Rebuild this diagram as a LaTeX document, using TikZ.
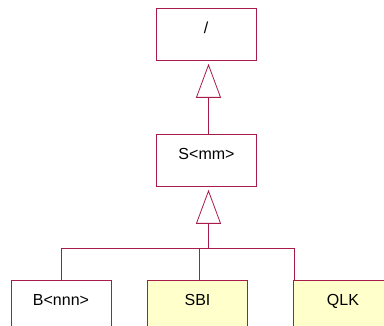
\documentclass[tikz,border=0pt]{standalone}
\usepackage{fontspec}
\setmainfont{Liberation Sans}
\usetikzlibrary{arrows.meta}
\definecolor{edge}{HTML}{A81C48}
\definecolor{leafbg}{HTML}{FFFFCC}

\begin{document}
\begin{tikzpicture}[x=1pt, y=-1pt,
    cls/.style={draw=edge, fill=white, line width=0.8pt, minimum width=100pt, inner sep=0pt,
                text height=25pt, text depth=27pt, font=\fontsize{16}{18}\selectfont},
    leaf/.style={cls, fill=leafbg, text depth=44pt},
    wire/.style={draw=edge, line width=0.8pt},
    gen/.style={wire, -{Triangle[open, length=34pt, width=25pt]}, shorten >=3pt}
  ]
  \useasboundingbox (0,0) rectangle (384,326);
  \node[cls, anchor=north] (root) at (206,8) {/};
  \node[cls, anchor=north] (smm) at (206.5,134) {S<mm>};
  \node[cls, text depth=44pt, anchor=north] (bnnn) at (61,280) {B<nnn>};
  \node[leaf, anchor=north] (sbi) at (197.5,280) {SBI};
  \node[leaf, anchor=north] (qlk) at (343,280) {QLK};
  \coordinate (jn) at (208.5,248);

  \draw[gen] (smm.north -| jn) -- (root.south -| jn);
  \draw[gen] (jn) -- (smm.south -| jn);
  \draw[wire] (bnnn.north) |- ([xshift=2pt]qlk.north west |- jn) -- ([xshift=2pt]qlk.north west);
  \draw[wire] ([xshift=2pt]sbi.north) -- ([xshift=2pt]sbi.north |- jn);
\end{tikzpicture}
\end{document}
